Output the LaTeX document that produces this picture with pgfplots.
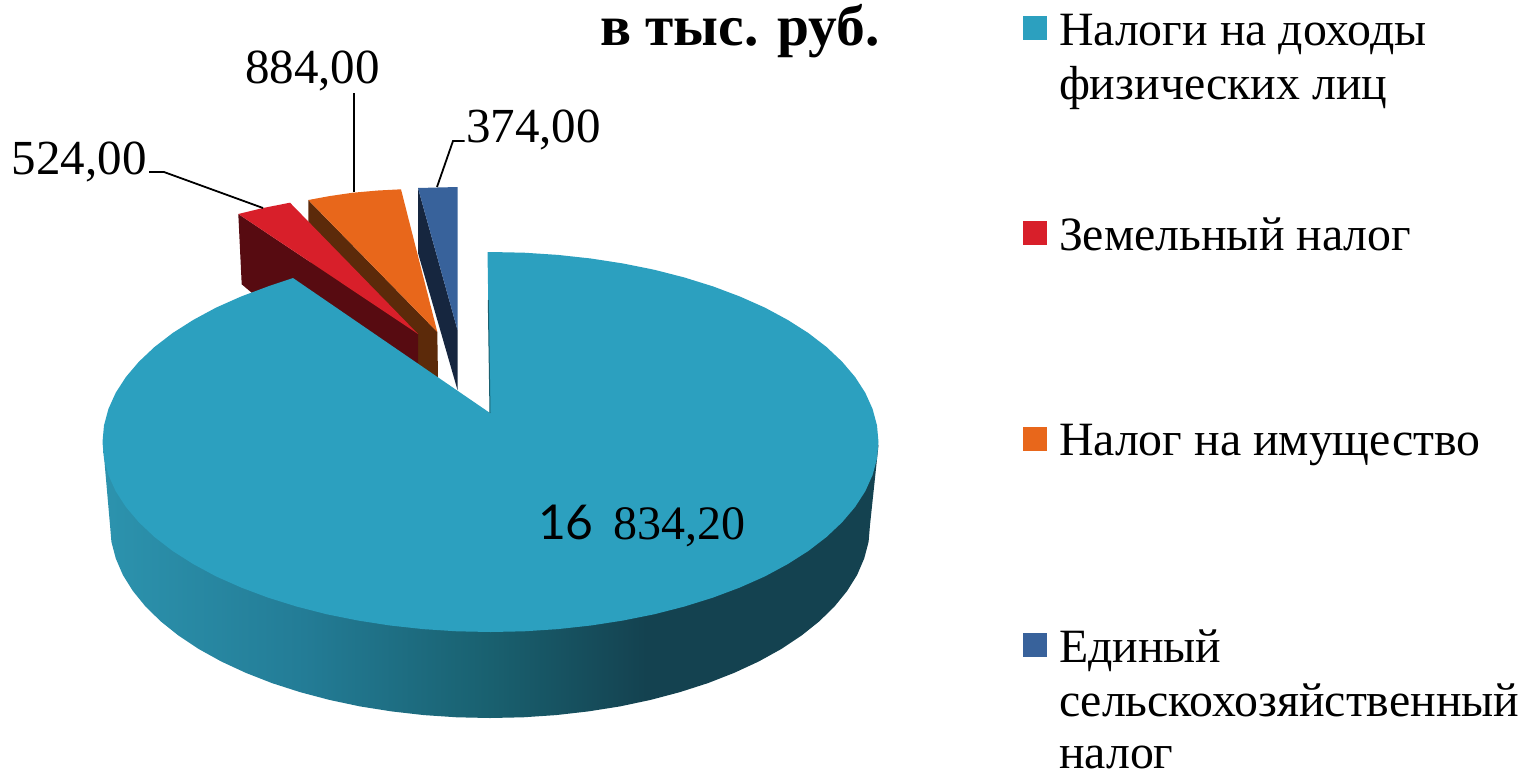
\documentclass[border=0pt]{standalone}
\usepackage{pgfplots}
\pgfplotsset{compat=1.18}
\usepackage{fontspec}
\setmainfont{Liberation Serif}
\newfontfamily\digitfont{Lato}
\definecolor{cteal}{HTML}{2CA0BF}
\definecolor{cred}{HTML}{D81F2A}
\definecolor{corange}{HTML}{E8671B}
\definecolor{cblue}{HTML}{38629B}
\definecolor{dred}{HTML}{570B11}
\definecolor{dorange}{HTML}{5C2A0A}
\definecolor{dblue}{HTML}{16263F}
\definecolor{sa}{HTML}{2C93AE}
\definecolor{sb}{HTML}{237C96}
\definecolor{sc}{HTML}{19606F}
\definecolor{sd}{HTML}{144250}
\pgfdeclarehorizontalshading{sideshade}{100bp}{color(0bp)=(sa); color(25bp)=(sa); color(38bp)=(sb); color(50bp)=(sc); color(60bp)=(sd); color(100bp)=(sd)}
\newcommand{\lab}[1]{\fontsize{49}{54}\selectfont #1}
\newcommand{\leg}[1]{\fontsize{47.8}{54}\selectfont #1}
\begin{document}
\begin{tikzpicture}
\useasboundingbox (0,0) rectangle (1526pt,774pt);
\begin{axis}[
  at={(0,0)}, anchor=south west,
  scale only axis, width=1526pt, height=774pt,
  xmin=0, xmax=1526, ymin=0, ymax=774, y dir=reverse,
  hide axis, clip=false, enlargelimits=false]
% side wall of the large slice
\addplot[shade, shading=sideshade, draw=none] coordinates {
 (878.5,445) (870,525) (868.6,541.8) (864.2,558.5) (857.1,575) (847.1,591) (834.4,606.6) (819.1,621.5) (801.3,635.7) (781.1,649.1) (758.7,661.5) (734.3,672.8) (708,683.1) (680,692.1) (650.6,699.9) (620,706.4) (588.4,711.4) (556,715.1) (523.1,717.3) (490,718) (456.9,717.3) (424,715.1) (391.6,711.4) (360,706.4) (329.4,699.9) (300,692.1) (272,683.1) (245.7,672.8) (221.3,661.5) (198.9,649.1) (178.7,635.7) (160.9,621.5) (145.6,606.6) (132.9,591) (122.9,575) (115.8,558.5) (111.4,541.8) (110,525) (103,445)
} -- cycle;
% blue slice
\addplot[fill=dblue, draw=none] coordinates {(418,188) (457.5,330) (457.5,390) (418,253)} -- cycle;
\addplot[fill=cblue, draw=none] coordinates {(418,188) (457.5,187) (457.5,330)} -- cycle;
% orange slice
\addplot[fill=dorange, draw=none] coordinates {(308.3,200) (437.3,332) (438,378) (418,365) (308.3,260)} -- cycle;
\addplot[fill=corange, draw=none] coordinates {(308.3,200) (330,196) (353,192.7) (378,190.5) (401,189.3) (437.3,332)} -- cycle;
% red slice
\addplot[fill=dred, draw=none] coordinates {(238.3,214) (418,334) (418,365) (252,293) (241.7,284.3)} -- cycle;
\addplot[fill=cred, draw=none] coordinates {(238.3,214) (263,208) (290,202.7) (418,334)} -- cycle;
% top of the large slice
\addplot[fill=cteal, draw=none] coordinates {
 (487.5,252) (490.5,252) (524.3,252.7) (557.9,254.9) (590.9,258.5) (623.2,263.5) (654.5,269.8) (684.5,277.5) (713,286.4) (739.9,296.5) (764.9,307.6) (787.7,319.9) (808.3,333) (826.5,347) (842.1,361.7) (855.1,377) (865.3,392.8) (872.6,409) (877,425.4) (878.5,442) (877,458.6) (872.6,475) (865.3,491.2) (855.1,507) (842.1,522.3) (826.5,537) (808.3,551) (787.7,564.1) (764.9,576.4) (739.9,587.5) (713,597.6) (684.5,606.5) (654.5,614.2) (623.2,620.5) (590.9,625.5) (557.9,629.1) (524.3,631.3) (490.5,632) (456.7,631.3) (423.1,629.1) (390.1,625.5) (357.8,620.5) (326.5,614.2) (296.5,606.5) (268,597.6) (241.1,587.5) (216.1,576.4) (193.3,564.1) (172.7,551) (154.5,537) (138.9,522.3) (125.9,507) (115.7,491.2) (108.4,475) (104,458.6) (102.5,442) (104,425.4) (108.4,409) (115.7,392.8) (125.9,377) (138.9,361.7) (154.5,347) (172.7,333) (193.3,319.9) (216.1,307.6) (241.1,296.5) (268,286.4) (293,278) (490,413)
} -- cycle;
\addplot[color=sc, line width=1pt] coordinates {(488.3,300) (490,413)};
% leader lines
\addplot[black, line width=1.8pt] coordinates {(149,172) (164,172) (263,208)};
\addplot[black, line width=1.8pt] coordinates {(354,93) (354,192)};
\addplot[black, line width=1.8pt] coordinates {(464.5,141) (453,141) (437,187)};
% legend keys
\addplot[fill=cteal, draw=none] coordinates {(1023,16) (1047,16) (1047,40) (1023,40)} -- cycle;
\addplot[fill=cred, draw=none] coordinates {(1023,221) (1047,221) (1047,245) (1023,245)} -- cycle;
\addplot[fill=corange, draw=none] coordinates {(1023,427) (1047,427) (1047,451) (1023,451)} -- cycle;
\addplot[fill=cblue, draw=none] coordinates {(1023,633) (1047,633) (1047,657) (1023,657)} -- cycle;
% legend text
\tikzset{t/.style={anchor=base west, inner sep=0pt, outer sep=0pt}}
\node[t] at (axis cs:1059,45) {\leg{Налоги на доходы}};
\node[t] at (axis cs:1059,99) {\leg{физических лиц}};
\node[t] at (axis cs:1059,250) {\leg{Земельный налог}};
\node[t] at (axis cs:1059,455) {\leg{Налог на имущество}};
\node[t] at (axis cs:1059,662) {\leg{Единый}};
\node[t] at (axis cs:1059,716) {\leg{сельскохозяйственный}};
\node[t] at (axis cs:1059,768) {\leg{налог}};
% title and value labels
\node[t] at (axis cs:600,45) {\fontsize{57.5}{60}\selectfont\bfseries в тыс. руб.};
\node[t] at (axis cs:245,83) {\lab{884,00}};
\node[t] at (axis cs:12,174) {\lab{524,00}};
\node[t] at (axis cs:466,142) {\lab{374,00}};
\node[t] at (axis cs:538,539) {\fontsize{48}{54}\selectfont\digitfont 16};
\node[t] at (axis cs:613,539) {\fontsize{48}{54}\selectfont 834,20};
\end{axis}
\end{tikzpicture}
\end{document}
